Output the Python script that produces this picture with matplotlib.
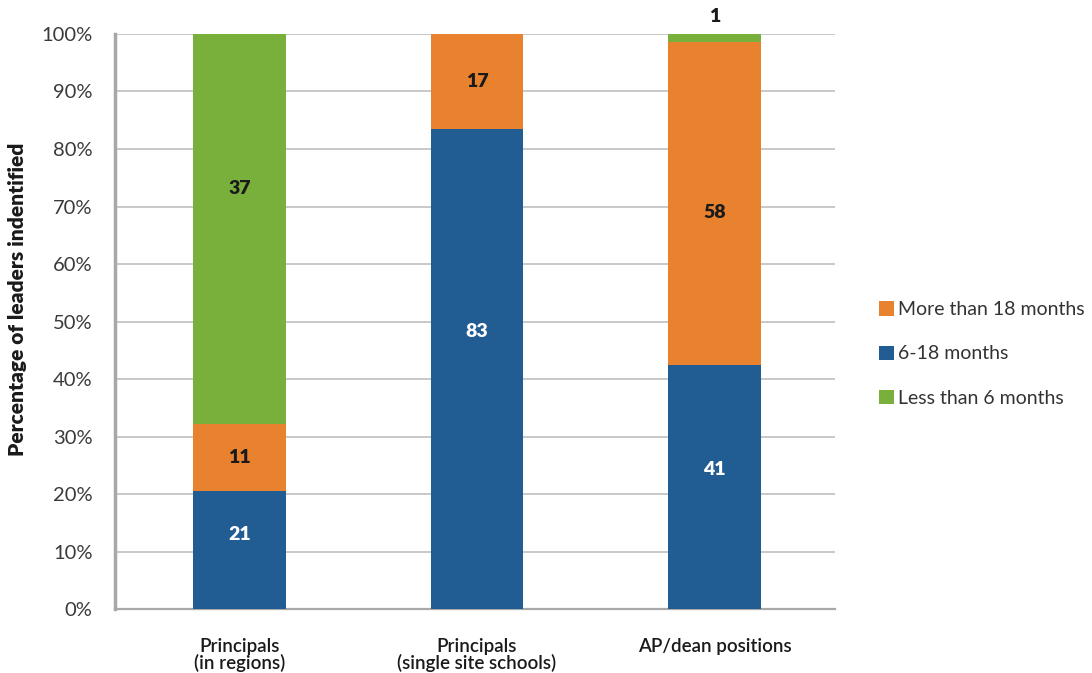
import numpy as np
import matplotlib
matplotlib.use('Agg')
import matplotlib.pyplot as plt

plt.rcParams['font.family'] = ['Lato', 'DejaVu Sans']

# data (segment heights in %) and the printed labels
groups = ['Principals\n(in regions)', 'Principals\n(single site schools)', 'AP/dean positions']
blue_pct = [20.5, 83.5, 42.4]      # 6-18 months
orange_pct = [11.7, 16.5, 56.2]    # More than 18 months
green_pct = [67.8, 0.0, 1.4]       # Less than 6 months
blue_lbl = ['21', '83', '41']
orange_lbl = ['11', '17', '58']
green_lbl = ['37', '', '1']

# where the labels sit (y in axis %), as placed in the original
blue_lbl_y = [13.0, 48.3, 24.2]
orange_lbl_y = [26.3, 91.7, 69.0]
green_lbl_y = [73.2, None, 103.0]

c_blue = '#215c92'
c_orange = '#e8822f'
c_green = '#79b03c'
grid_c = '#b9b9b9'

fig = plt.figure(figsize=(10.92, 6.73), dpi=100)
ax = fig.add_axes([0.105, 0.095, 0.66, 0.8545])

x = np.arange(len(groups))
w = 0.39
blue = np.array(blue_pct)
orange = np.array(orange_pct)
green = np.array(green_pct)

b1 = ax.bar(x, blue, w, color=c_blue, label='6-18 months', zorder=3)
b2 = ax.bar(x, orange, w, bottom=blue, color=c_orange, label='More than 18 months', zorder=3)
b3 = ax.bar(x, green, w, bottom=blue + orange, color=c_green, label='Less than 6 months', zorder=3)

lbl_kw = dict(ha='center', va='center', fontsize=14, fontweight='heavy', zorder=4, clip_on=False)
for i in range(len(groups)):
    ax.text(x[i], blue_lbl_y[i], blue_lbl[i], color='white', **lbl_kw)
    ax.text(x[i], orange_lbl_y[i], orange_lbl[i], color='#1a1a1a', **lbl_kw)
    if green_lbl[i]:
        ax.text(x[i], green_lbl_y[i], green_lbl[i], color='#1a1a1a', **lbl_kw)

ax.set_xlim(-0.527, 2.51)
ax.set_ylim(0, 100)
ax.set_yticks(np.arange(0, 101, 10))
ax.set_yticklabels(['%d%%' % v for v in range(0, 101, 10)], fontsize=14.5,
                   color='#3a3a3a')
ax.set_xticks(x)
ax.set_xticklabels(groups, fontsize=13.5, color='#1a1a1a', fontweight='semibold',
                   linespacing=0.9)
ax.tick_params(axis='both', length=0)
ax.tick_params(axis='y', pad=16)
ax.tick_params(axis='x', pad=21)

ax.grid(axis='y', color=grid_c, linewidth=1.1, zorder=0)
ax.set_axisbelow(True)
for s in ['top', 'right']:
    ax.spines[s].set_visible(False)
ax.spines['left'].set_color('#a8a8a8')
ax.spines['left'].set_linewidth(2.5)
ax.spines['bottom'].set_color('#a8a8a8')
ax.spines['bottom'].set_linewidth(1.6)

ax.set_ylabel('Percentage of leaders indentified', fontsize=15, fontweight='heavy',
              color='#1a1a1a', va='center')
ax.yaxis.set_label_coords(-0.135, 0.539)

leg = fig.legend(handles=[b2, b1, b3], loc='center left', bbox_to_anchor=(0.789, 0.474),
                 frameon=False, fontsize=14, handlelength=0.75, handleheight=0.75,
                 handletextpad=0.2, labelspacing=1.4)
for t in leg.get_texts():
    t.set_color('#333333')

fig.savefig('out.png', dpi=100, facecolor='white')
